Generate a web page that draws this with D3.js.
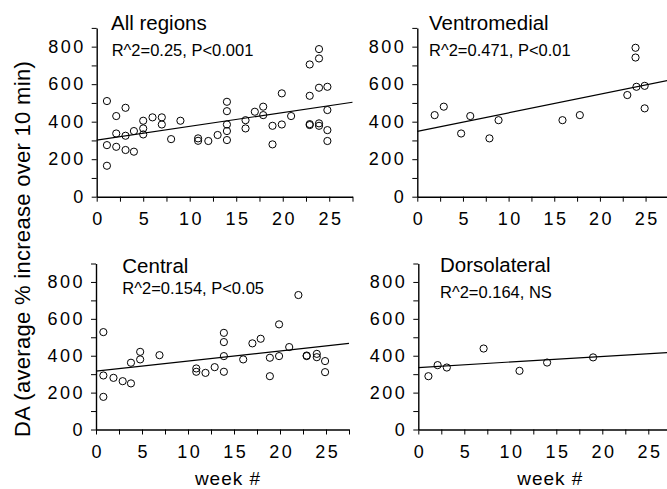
<!DOCTYPE html>
<html>
  <head>
    <meta charset="UTF-8" />
    <script src="https://cdn.jsdelivr.net/npm/d3@7"></script>
    <style>
      body { margin: 0; background: #fff; }
      svg { display: block; font-family: 'Liberation Sans', Arial, sans-serif; }
    </style>
  </head>
  <body>
    <svg></svg>
    <script>
      // 1. data
      const titles = ['All regions', 'Ventromedial', 'Central', 'Dorsolateral']
      const stats = ['R^2=0.25, P<0.001', 'R^2=0.471, P<0.01', 'R^2=0.154, P<0.05', 'R^2=0.164, NS']

      const allWeeks = [1.1, 1.1, 1.1, 2.1, 2.1, 2.1, 3.1, 3.1, 3.1, 4, 4, 5, 5, 5, 6, 7, 7, 8, 9, 10.9, 10.9, 12, 13, 14, 14, 14, 14, 14, 16, 16, 17, 17.9, 17.9, 18.9, 18.9, 19.9, 19.9, 20.9, 22.9, 22.9, 22.9, 22.9, 23.9, 23.9, 23.9, 23.9, 23.9, 24.8, 24.8, 24.8, 24.8]
      const allValues = [510, 275, 165, 430, 337, 266, 474, 325, 249, 350, 240, 405, 364, 332, 423, 423, 385, 307, 405, 311, 298, 297, 329, 506, 456, 385, 350, 302, 408, 364, 453, 480, 435, 378, 279, 385, 551, 430, 705, 538, 387, 382, 737, 787, 581, 391, 378, 586, 462, 355, 297]

      const vmWeeks = [1.9, 2.9, 4.8, 5.8, 7.9, 8.9, 15.9, 17.8, 23, 23.9, 23.9, 24, 24.9, 24.9]
      const vmValues = [435, 480, 337, 430, 311, 408, 408, 435, 542, 794, 742, 586, 591, 471]

      const cWeeks = [0.8, 0.8, 0.8, 1.9, 2.9, 3.8, 3.8, 4.8, 4.8, 6.9, 10.9, 10.9, 11.9, 12.9, 13.9, 13.9, 13.9, 13.9, 16, 17, 17.9, 18.9, 18.9, 19.9, 19.9, 21, 22, 22.9, 22.9, 24, 24, 24.9, 24.9]
      const cValues = [528, 293, 177, 280, 262, 250, 362, 421, 380, 403, 331, 313, 307, 338, 524, 474, 398, 313, 380, 467, 492, 389, 289, 570, 398, 447, 729, 401, 398, 410, 392, 371, 311]

      const dlWeeks = [1.1, 2.1, 3.1, 7.1, 11, 14, 19]
      const dlValues = [289, 349, 336, 439, 318, 363, 391]

      // fitted lines: value at week 0 and slope per week
      const fitIntercepts = [302, 348, 316, 336]
      const fitSlopes = [7.33, 9.9, 5.5, 3.0]

      const yTicks = d3.range(0, 901, 100)
      const xTicks = d3.range(0, 27.6, 2.5)

      // 2. layout
      const width = 667
      const height = 489
      const layout = [
        { x: [96.7, 352.5], y: [196.7, 27.9], title: [111, 30], stat: [111.7, 56], week: false },
        { x: [417.3, 668.4], y: [196.7, 27.9], title: [429, 30], stat: [429, 56], week: false },
        { x: [96, 349], y: [429.5, 263.5], title: [122.3, 272.7], stat: [122.3, 294], week: true },
        { x: [418.3, 671.3], y: [429.5, 263.5], title: [440, 271.7], stat: [440, 298.3], week: true },
      ]

      const series = [
        d3.zip(allWeeks, allValues),
        d3.zip(vmWeeks, vmValues),
        d3.zip(cWeeks, cValues),
        d3.zip(dlWeeks, dlValues),
      ]

      const svg = d3.select('svg').attr('width', width).attr('height', height)

      // 3. panels
      layout.forEach((L, i) => {
        const x = d3.scaleLinear([0, 27.5], L.x)
        const y = d3.scaleLinear([0, 900], L.y)
        const g = svg.append('g')

        g.append('g')
          .attr('transform', `translate(${L.x[0]},0)`)
          .call(
            d3.axisLeft(y)
              .tickValues(yTicks)
              .tickSize(5)
              .tickSizeOuter(0)
              .tickPadding(6)
              .tickFormat((d) => (d % 200 === 0 ? d : ''))
          )
          .call((a) => a.select('.domain').attr('stroke-width', 1.4))
          .call((a) =>
            a.selectAll('text').attr('font-size', 18).attr('letter-spacing', 2.5).attr('font-family', null).attr('fill', '#000')
          )

        g.append('g')
          .attr('transform', `translate(0,${L.y[0]})`)
          .call(
            d3.axisBottom(x)
              .tickValues(xTicks)
              .tickSize(5)
              .tickSizeOuter(0)
              .tickPadding(11)
              .tickFormat((d) => (d % 5 === 0 ? d : ''))
          )
          .call((a) => a.select('.domain').attr('stroke-width', 1.4))
          .call((a) =>
            a.selectAll('text').attr('font-size', 18).attr('letter-spacing', 2.5).attr('dx', 1.2).attr('font-family', null).attr('fill', '#000')
          )

        // regression line
        g.append('line')
          .attr('x1', x(0))
          .attr('y1', y(fitIntercepts[i]))
          .attr('x2', x(27.5))
          .attr('y2', y(fitIntercepts[i] + fitSlopes[i] * 27.5))
          .attr('stroke', '#000')
          .attr('stroke-width', 1.2)

        g.append('g')
          .attr('fill', 'none')
          .attr('stroke', '#000')
          .attr('stroke-width', 1)
          .selectAll('circle')
          .data(series[i])
          .join('circle')
          .attr('cx', (d) => x(d[0]))
          .attr('cy', (d) => y(d[1]))
          .attr('r', 3.6)

        g.append('text')
          .attr('x', L.title[0])
          .attr('y', L.title[1])
          .attr('font-size', 20.5)
          .text(titles[i])

        g.append('text')
          .attr('x', L.stat[0])
          .attr('y', L.stat[1])
          .attr('font-size', 16.5)
          .text(stats[i])

        if (L.week) {
          g.append('text')
            .attr('x', (L.x[0] + x(25)) / 2 + 17)
            .attr('y', 485)
            .attr('text-anchor', 'middle')
            .attr('font-size', 19)
            .attr('letter-spacing', 1)
            .text('week #')
        }
      })

      // 4. shared y label
      svg.append('text')
        .attr('transform', 'translate(30,249) rotate(-90)')
        .attr('text-anchor', 'middle')
        .attr('font-size', 22)
        .attr('letter-spacing', 0.3)
        .text('DA (average % increase over 10 min)')
    </script>
  </body>
</html>
